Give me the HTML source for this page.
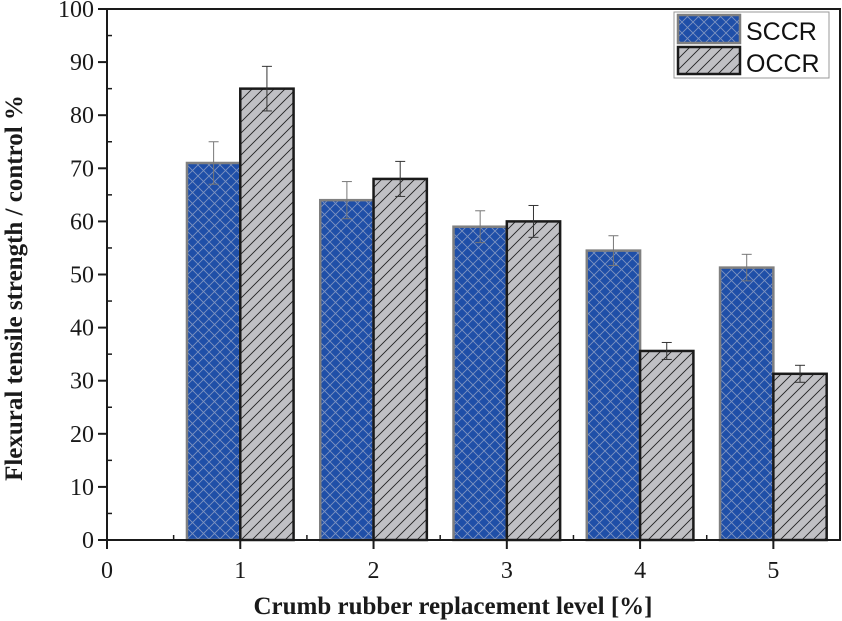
<!DOCTYPE html>
<html><head><meta charset="utf-8">
<style>
html,body{margin:0;padding:0;background:#fff;}
svg{display:block;}
text{font-family:"Liberation Serif",serif;}
</style></head>
<body>
<svg id="chart" width="842" height="621" viewBox="0 0 842 621" xmlns="http://www.w3.org/2000/svg">
<defs>
<pattern id="cross" patternUnits="userSpaceOnUse" width="11" height="11">
<rect width="11" height="11" fill="#1f4fa8"/>
<path d="M0,0 L11,11 M11,0 L0,11" stroke="#7d93c0" stroke-width="0.9"/>
</pattern>
<pattern id="diag" patternUnits="userSpaceOnUse" width="11" height="11">
<rect width="11" height="11" fill="#c0c0c4"/>
<path d="M-1,12 L12,-1 M-6,6 L6,-6 M5,17 L17,5" stroke="#222" stroke-width="0.9"/>
</pattern>
</defs>
<g id="plot"></g>
</svg>
<script>
const categories = [1, 2, 3, 4, 5];
const sccrValues = [71, 64, 59, 54.5, 51.3];
const sccrErrors = [4, 3.5, 3, 2.8, 2.5];
const occrValues = [85, 68, 60, 35.6, 31.3];
const occrErrors = [4.2, 3.3, 3, 1.6, 1.6];
const yTicks = [0, 10, 20, 30, 40, 50, 60, 70, 80, 90, 100];
const xTicks = [0, 1, 2, 3, 4, 5];

const L = 107, R = 840, T = 9, B = 540;
const xMin = 0, xMax = 5.5, yMin = 0, yMax = 100;
const xs = v => L + (v - xMin) / (xMax - xMin) * (R - L);
const ys = v => B - (v - yMin) / (yMax - yMin) * (B - T);
const NS = "http://www.w3.org/2000/svg";
const g = document.getElementById("plot");
function mk(tag, attrs, parent) {
  const e = document.createElementNS(NS, tag);
  for (const k in attrs) e.setAttribute(k, attrs[k]);
  (parent || g).appendChild(e);
  return e;
}
const barW = 0.4;

categories.forEach((c, i) => {
  const b1 = mk("rect", {x: xs(c - barW), y: ys(sccrValues[i]), width: xs(c) - xs(c - barW), height: ys(0) - ys(sccrValues[i]), fill: "url(#cross)", stroke: "#808080", "stroke-width": 2.5});
  
  
  const b2 = mk("rect", {x: xs(c), y: ys(occrValues[i]), width: xs(c + barW) - xs(c), height: ys(0) - ys(occrValues[i]), fill: "url(#diag)", stroke: "#1a1a1a", "stroke-width": 2.5});
  
  
  [[c - barW / 2, sccrValues[i], sccrErrors[i], 'sccr'], [c + barW / 2, occrValues[i], occrErrors[i], 'occr']].forEach(([x, v, e, s]) => {
    const eg = mk("g", {stroke: s === 'sccr' ? "#777" : "#333", "stroke-width": 1});
    
    
    const X = xs(x);
    mk("line", {x1: X, x2: X, y1: ys(v + e), y2: ys(v - e)}, eg);
    mk("line", {x1: X - 5, x2: X + 5, y1: ys(v + e), y2: ys(v + e)}, eg);
    mk("line", {x1: X - 5, x2: X + 5, y1: ys(v - e), y2: ys(v - e)}, eg);
  });
});

const fr = mk("rect", {x: L, y: T, width: R - L, height: B - T, fill: "none", stroke: "#1a1a1a", "stroke-width": 2});



yTicks.forEach(t => {
  mk("line", {x1: L - 9, x2: L, y1: ys(t), y2: ys(t), stroke: "#1a1a1a", "stroke-width": 2});
  if (t < 100) mk("line", {x1: L, x2: L + 5, y1: ys(t + 5), y2: ys(t + 5), stroke: "#1a1a1a", "stroke-width": 1.5});
  const tx = mk("text", {x: L - 13, y: ys(t) + 8, "text-anchor": "end", "font-size": 24, fill: "#1a1a1a"});
  tx.textContent = t;
  
  
});
xTicks.forEach(t => {
  mk("line", {x1: xs(t), x2: xs(t), y1: B, y2: B + 9, stroke: "#1a1a1a", "stroke-width": 2});
  mk("line", {x1: xs(t + 0.5), x2: xs(t + 0.5), y1: B, y2: B - 5, stroke: "#1a1a1a", "stroke-width": 1.5});
  const tx = mk("text", {x: xs(t), y: B + 38, "text-anchor": "middle", "font-size": 24, fill: "#1a1a1a"});
  tx.textContent = t;
  
  
});
mk("line", {x1: L - 9, x2: L, y1: B, y2: B, stroke: "#1a1a1a", "stroke-width": 2});

const xt = mk("text", {x: 453, y: 614, "text-anchor": "middle", "font-size": 25, "font-weight": "bold", fill: "#1a1a1a"});
xt.textContent = "Crumb rubber replacement level [%]";


const yt = mk("text", {x: 0, y: 0, transform: "translate(22,288) rotate(-90)", "text-anchor": "middle", "font-size": 25, "font-weight": "bold", fill: "#1a1a1a"});
yt.textContent = "Flexural tensile strength / control %";



const lg = mk("g", {});


mk("rect", {x: 674, y: 12, width: 155, height: 66, fill: "#fff", stroke: "#999", "stroke-width": 1}, lg);
const e1 = mk("g", {}, lg);


mk("rect", {x: 678, y: 15, width: 62, height: 28, fill: "url(#cross)", stroke: "#808080", "stroke-width": 2.5}, e1);
const t1 = mk("text", {x: 746, y: 40, "font-size": 25, fill: "#111", style: "font-family:'Liberation Sans',sans-serif"}, e1);
t1.textContent = "SCCR";
const e2 = mk("g", {}, lg);


mk("rect", {x: 678, y: 47, width: 62, height: 27, fill: "url(#diag)", stroke: "#1a1a1a", "stroke-width": 2.5}, e2);
const t2 = mk("text", {x: 746, y: 72, "font-size": 25, fill: "#111", style: "font-family:'Liberation Sans',sans-serif"}, e2);
t2.textContent = "OCCR";
</script>
</body></html>
